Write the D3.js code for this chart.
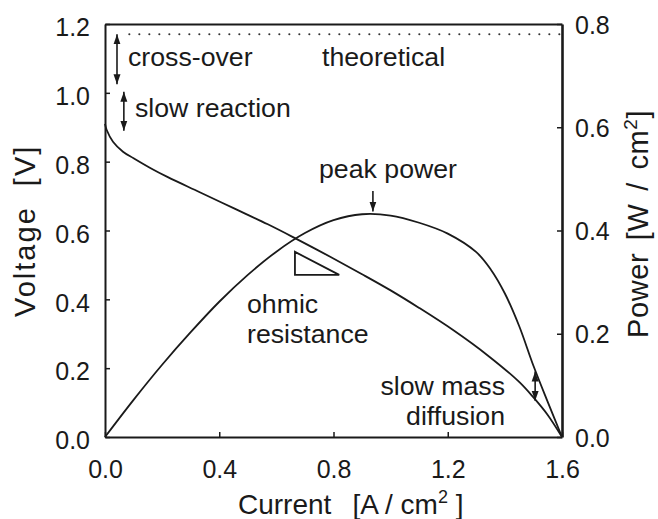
<!DOCTYPE html>
<html><head><meta charset="utf-8">
<script src="https://cdn.jsdelivr.net/npm/d3@7"></script>
<style>
html,body{margin:0;padding:0;background:#fff;}
svg text{font-family:"Liberation Sans",Arial,Helvetica,sans-serif;fill:#1a1a1a;white-space:pre;}
</style></head>
<body><svg id="chart" width="658" height="519"></svg>
<script>
// ---- data ----
const currentV = [0, 0.006, 0.028, 0.063, 0.1, 0.16, 0.22, 0.33, 0.45, 0.57, 0.66, 0.79, 0.9, 1.0, 1.1, 1.22, 1.34, 1.45, 1.5, 1.55, 1.6];
const voltage  = [0.91, 0.892, 0.858, 0.829, 0.81, 0.781, 0.755, 0.712, 0.665, 0.618, 0.58, 0.523, 0.473, 0.426, 0.375, 0.31, 0.237, 0.16, 0.115, 0.064, 0];
const currentP = [0, 0.1, 0.2, 0.3, 0.4, 0.5, 0.6, 0.7, 0.8, 0.9, 1.0, 1.1, 1.2, 1.3, 1.35, 1.4, 1.45, 1.5, 1.55, 1.6];
const power    = [0, 0.072, 0.14, 0.203, 0.262, 0.314, 0.359, 0.395, 0.42, 0.4315, 0.429, 0.415, 0.394, 0.358, 0.325, 0.278, 0.215, 0.138, 0.068, 0];
const theoreticalV = 1.17;
const theoreticalRange = [0.085, 1.6];
const xTicks = [0.0, 0.4, 0.8, 1.2, 1.6];
const vTicks = [0.0, 0.2, 0.4, 0.6, 0.8, 1.0, 1.2];
const pTicks = [0.0, 0.2, 0.4, 0.6, 0.8];
// annotation anchors (data coords: [current, voltage])
const crossOverArrow = [[0.042, 1.17], [0.042, 1.025]];
const slowReactionArrow = [[0.066, 1.003], [0.066, 0.89]];
const peakArrow = [[0.938, 0.715], [0.938, 0.655]];
const massArrow = [[1.506, 0.19], [1.506, 0.105]];
const ohmicTriangle = [[0.665, 0.538], [0.665, 0.471], [0.82, 0.471]];

// ---- layout ----
const L = 105, R = 562, T = 24, B = 437;
const svg = d3.select("#chart");
const x = d3.scaleLinear().domain([0, 1.6]).range([L, R]);
const yV = d3.scaleLinear().domain([0, 1.2]).range([B, T]);
const yP = d3.scaleLinear().domain([0, 0.8]).range([B, T]);
const fmt = d3.format(".1f");
const ink = "#1a1a1a";

const defs = svg.append("defs");
function marker(id, orient) {
  defs.append("marker").attr("id", id).attr("viewBox", "0 0 10 10")
    .attr("refX", 10).attr("refY", 5).attr("markerWidth", 10).attr("markerHeight", 10)
    .attr("markerUnits", "userSpaceOnUse").attr("orient", orient)
    .append("path").attr("d", "M0,1.5 L10,5 L0,8.5 Z").attr("fill", ink);
}
marker("ah", "auto");
marker("ahs", "auto-start-reverse");

function styleAxis(g) {
  g.selectAll(".domain").attr("stroke", ink).attr("stroke-width", 2);
  g.selectAll(".tick line").attr("stroke", ink).attr("stroke-width", 1.5);
  g.selectAll(".tick text").attr("font-size", 25).attr("fill", ink);
}
const gx = svg.append("g").attr("transform", `translate(0,${B})`)
  .call(d3.axisBottom(x).tickValues(xTicks).tickFormat(fmt).tickSize(-5).tickSizeOuter(0).tickPadding(23));
styleAxis(gx);
const gl = svg.append("g").attr("transform", `translate(${L},0)`)
  .call(d3.axisLeft(yV).tickValues(vTicks).tickFormat(fmt).tickSize(-5).tickSizeOuter(0).tickPadding(15));
styleAxis(gl);
gl.selectAll(".tick text").attr("dy", "0.47em");
const gr = svg.append("g").attr("transform", `translate(${R},0)`)
  .call(d3.axisRight(yP).tickValues(pTicks).tickFormat(fmt).tickSize(-5).tickSizeOuter(0).tickPadding(13));
styleAxis(gr);
gr.select(".domain").attr("stroke-width", 2.6);
gr.selectAll(".tick text").attr("dy", "0.36em");
const gt = svg.append("g").attr("transform", `translate(0,${T})`)
  .call(d3.axisTop(x).tickValues([]).tickSizeOuter(0));
styleAxis(gt);

// theoretical dotted line
svg.append("line")
  .attr("x1", x(theoreticalRange[0])).attr("x2", x(theoreticalRange[1]))
  .attr("y1", yV(theoreticalV)).attr("y2", yV(theoreticalV))
  .attr("stroke", "#333").attr("stroke-width", 2).attr("stroke-linecap", "round")
  .attr("stroke-dasharray", "0.1,9.9");

// curves
const vData = currentV.map((c, i) => [c, voltage[i]]);
const pData = currentP.map((c, i) => [c, power[i]]);
svg.append("path").datum(vData)
  .attr("d", d3.line().x(d => x(d[0])).y(d => yV(d[1])).curve(d3.curveCatmullRom.alpha(0.5)))
  .attr("fill", "none").attr("stroke", ink).attr("stroke-width", 1.8);
svg.append("path").datum(pData)
  .attr("d", d3.line().x(d => x(d[0])).y(d => yP(d[1])).curve(d3.curveCatmullRom.alpha(0.5)))
  .attr("fill", "none").attr("stroke", ink).attr("stroke-width", 1.8);

// arrows
function arrow(pts, both) {
  svg.append("line")
    .attr("x1", x(pts[0][0])).attr("y1", yV(pts[0][1]))
    .attr("x2", x(pts[1][0])).attr("y2", yV(pts[1][1]))
    .attr("stroke", ink).attr("stroke-width", 1.6)
    .attr("marker-end", "url(#ah)")
    .attr("marker-start", both ? "url(#ahs)" : null);
}
arrow(crossOverArrow, true);
arrow(slowReactionArrow, true);
arrow(peakArrow, false);
arrow(massArrow, true);

svg.append("path").datum(ohmicTriangle)
  .attr("d", d3.line().x(d => x(d[0])).y(d => yV(d[1])).curve(d3.curveLinearClosed))
  .attr("fill", "none").attr("stroke", ink).attr("stroke-width", 1.8);

function label(txt, px, py, anchor) {
  svg.append("text").attr("x", px).attr("y", py).attr("font-size", 26.7)
    .attr("text-anchor", anchor || "start").text(txt);
}
label("cross-over", 128, 66);
label("theoretical", 322, 66);
label("slow reaction", 135, 117);
label("peak power", 319, 178);
label("ohmic", 247, 313);
label("resistance", 247, 343);
label("slow mass", 505, 395, "end");
label("diffusion", 505, 425, "end");

// axis titles
const xt = svg.append("text").attr("x", 238).attr("y", 514)
  .attr("font-size", 28).attr("text-anchor", "start");
xt.append("tspan").text("Current");
xt.append("tspan").attr("dx", 21).text("[A / cm");
xt.append("tspan").attr("font-size", 18).attr("dy", -11).text("2");
xt.append("tspan").attr("dy", 11).text(" ]");

svg.append("text").attr("transform", "translate(35,317) rotate(-90)")
  .attr("font-size", 29).attr("letter-spacing", 2).attr("text-anchor", "start").text("Voltage  [V]");

const yt = svg.append("text").attr("transform", "translate(648,338) rotate(-90)")
  .attr("font-size", 29).attr("letter-spacing", 0.6).attr("word-spacing", 4).attr("text-anchor", "start");
yt.append("tspan").text("Power [W / cm");
yt.append("tspan").attr("font-size", 19).attr("dy", -11).text("2");
yt.append("tspan").attr("dy", 11).text("]");
</script></body></html>
